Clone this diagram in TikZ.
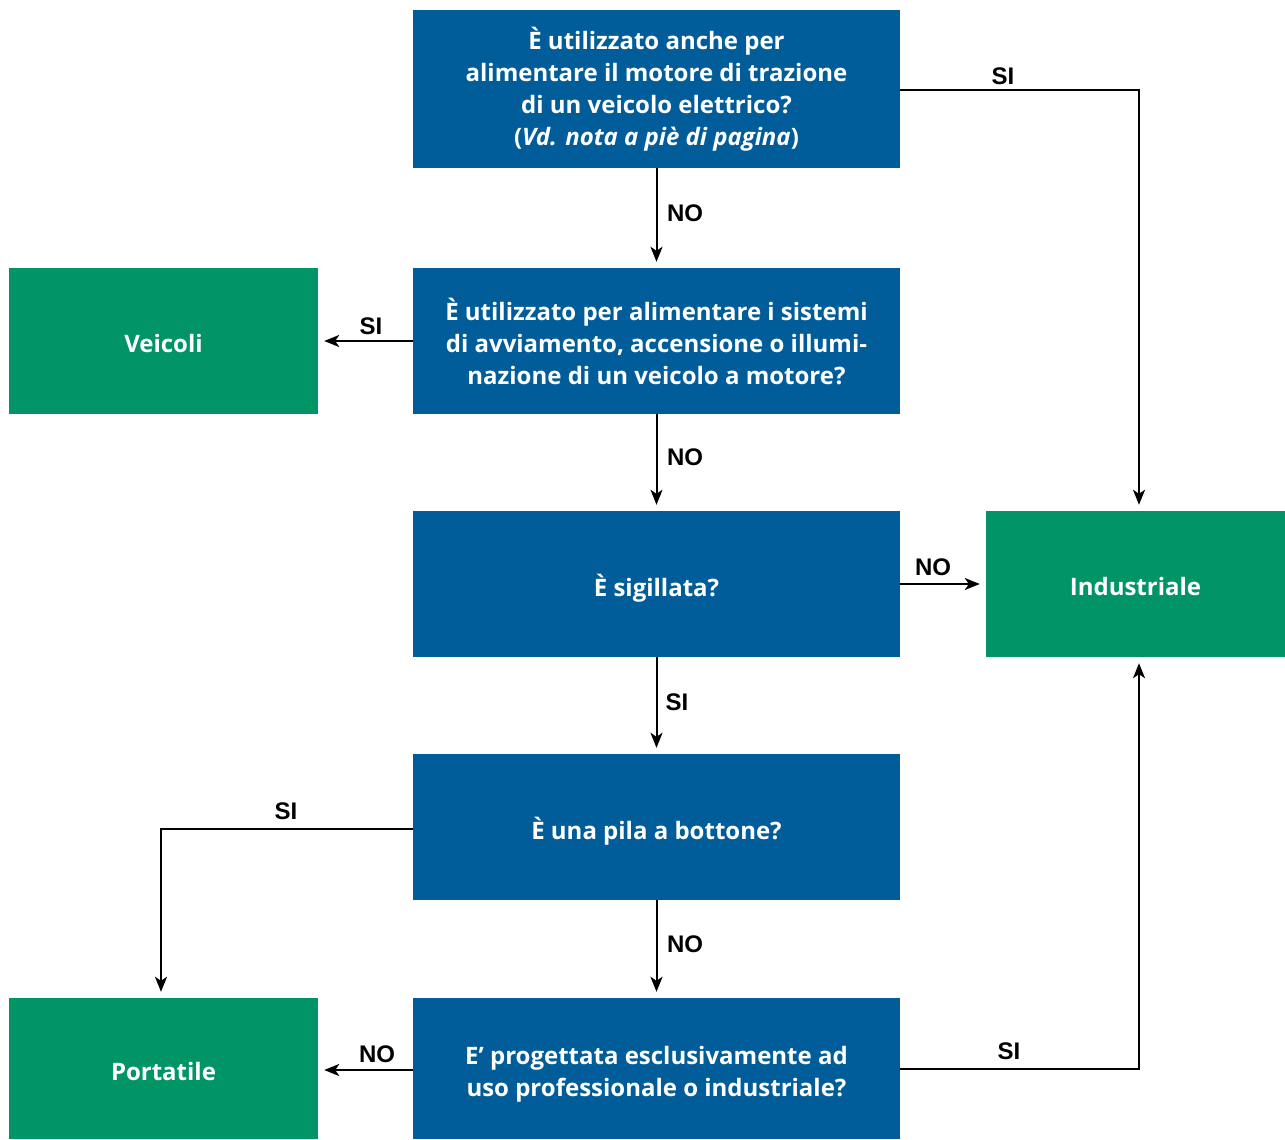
\documentclass[tikz,border=0pt]{standalone}
\usepackage{fontspec}
\setmainfont{Open Sans}
\newfontfamily\boxfont{Open Sans}
\newfontfamily\lblfont{Liberation Sans}
\usetikzlibrary{arrows.meta}
\definecolor{qblue}{RGB}{0,93,154}
\definecolor{rgreen}{RGB}{0,148,103}
\begin{document}
\begin{tikzpicture}[x=1pt,y=-1pt,
  qbox/.style={rectangle,fill=qblue,inner sep=0pt,minimum width=487pt,minimum height=146pt,
    text=white,align=center,font=\boxfont\bfseries\fontsize{24}{32}\selectfont},
  rbox/.style={rectangle,fill=rgreen,inner sep=0pt,minimum height=146pt,text depth=0pt,
    text=white,align=center,font=\boxfont\bfseries\fontsize{24}{32}\selectfont},
  arr/.style={line width=2pt,-{Stealth[length=15pt,width=12pt,inset=4pt]},shorten >=6pt},
  lbl/.style={font=\lblfont\bfseries\fontsize{24}{28}\selectfont,inner sep=0pt}]
\useasboundingbox (0,0) rectangle (1285,1140);
\node[qbox,minimum height=158pt] (b1) at (656.5,89) {È utilizzato anche per\\alimentare il motore di trazione\\di un veicolo elettrico?\\(\textit{Vd. nota a piè di pagina})};
\node[qbox] (b2) at (656.5,341) {È utilizzato per alimentare i sistemi\\di avviamento, accensione o illumi-\\nazione di un veicolo a motore?};
\node[qbox,text depth=0pt] (b3) at (656.5,584) {\raisebox{-3pt}{È sigillata?}};
\node[qbox,text depth=0pt] (b4) at (656.5,827) {\raisebox{-3pt}{È una pila a bottone?}};
\node[qbox,minimum height=141pt] (b5) at (656.5,1068.5) {\raisebox{-12pt}[0pt][0pt]{\begin{tabular}{@{}c@{}}E’ progettata esclusivamente ad\\uso professionale o industriale?\end{tabular}}};
\node[rbox,minimum width=309pt] (veic) at (163.5,341) {\raisebox{-4pt}{Veicoli}};
\node[rbox,minimum width=299pt] (ind) at (1135.5,584) {\raisebox{-4pt}{Industriale}};
\node[rbox,minimum width=309pt,minimum height=141pt] (port) at (163.5,1068.5) {\raisebox{-6pt}{Portatile}};
\coordinate (c1) at (1139,90);
\coordinate (c2) at (1139,1069);
\coordinate (c3) at (161,829);
\draw[arr] (b1.east |- c1) -- (c1) -- (ind.north -| c1);
\draw[arr] (b1) -- (b2);
\draw[arr] (b2) -- (veic);
\draw[arr] (b2) -- (b3);
\draw[arr] (b3) -- (ind);
\draw[arr] (b3) -- (b4);
\draw[arr] (b4.west |- c3) -- (c3) -- (port.north -| c3);
\draw[arr] (b4) -- (b5);
\draw[arr] (b5.west |- 0,1070) -- (port.east |- 0,1070);
\draw[arr] (b5.east |- c2) -- (c2) -- (ind.south -| c2);
\node[lbl] (l1) at (1003,76) {SI};
\node[lbl] (l2) at (685,213) {NO};
\node[lbl] (l3) at (371,326) {SI};
\node[lbl] (l4) at (685,457) {NO};
\node[lbl] (l5) at (933,567) {NO};
\node[lbl] (l6) at (677,702) {SI};
\node[lbl] (l7) at (286,811) {SI};
\node[lbl] (l8) at (685,944) {NO};
\node[lbl] (l9) at (377,1054) {NO};
\node[lbl] (l10) at (1009,1051) {SI};
\end{tikzpicture}
\end{document}
